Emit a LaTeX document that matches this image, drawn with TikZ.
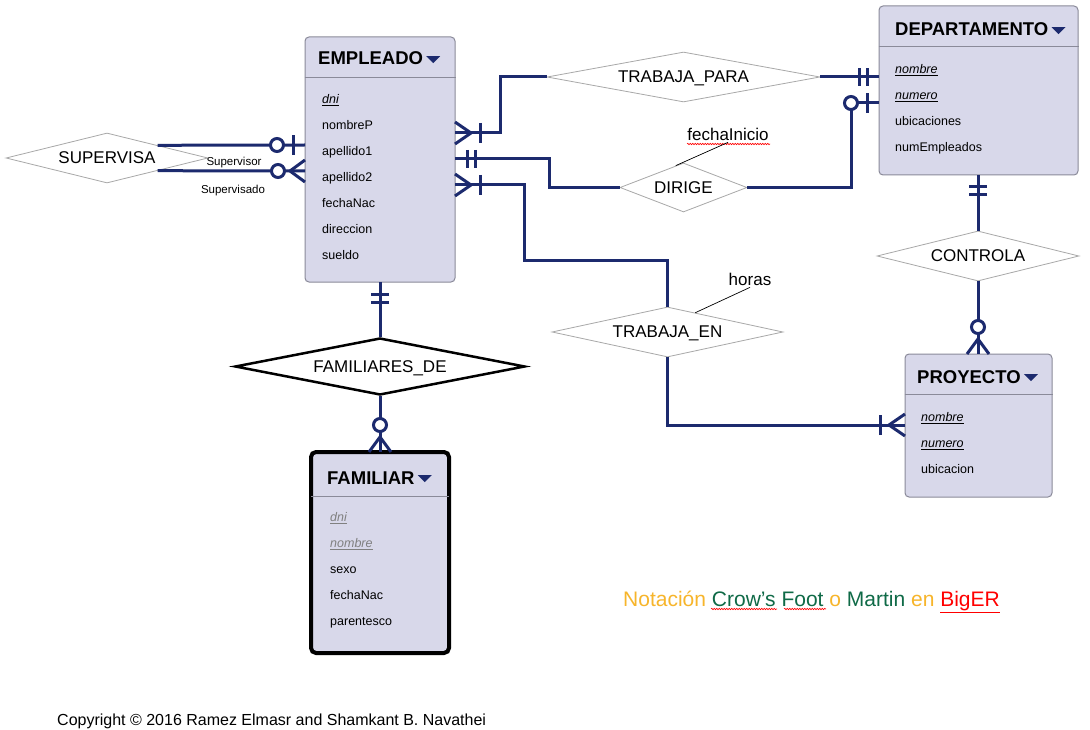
\documentclass[tikz,border=0pt]{standalone}
\usepackage{fontspec}
\setmainfont{Liberation Sans}
\usetikzlibrary{shapes.geometric,calc,decorations.pathmorphing}
\definecolor{navy}{HTML}{1C2A6E}
\definecolor{boxfill}{HTML}{D8D8EA}
\definecolor{boxline}{HTML}{8A8A99}
\definecolor{dgrey}{HTML}{A8A8A8}
\definecolor{orng}{HTML}{F7B52B}
\definecolor{grn}{HTML}{0F6A47}
\definecolor{keygrey}{HTML}{808080}
\tikzset{
 crowbar/.pic={\draw[mk] (0,-11) -- (16,0) -- (0,11); \draw[mk] (25,-10) -- (25,10);},
 dblbar/.pic={\draw[mk] (12,-9) -- (12,9); \draw[mk] (20,-9) -- (20,9);},
 zerobar/.pic={\draw[mk] (12,-10) -- (12,10); \draw[mk,fill=white] (28,0) circle[radius=6.5pt];},
 zerocrow/.pic={\draw[mk] (0,-11) -- (15,0) -- (0,11); \draw[mk,fill=white] (27,0) circle[radius=6.5pt];}
}
\begin{document}
\begin{tikzpicture}[x=1pt,y=-1pt,
 entity/.style={draw=boxline,fill=boxfill,rounded corners=4pt,line width=1pt,inner sep=0},
 weakent/.style={draw=black,fill=boxfill,rounded corners=5pt,line width=4pt,inner sep=0},
 sepline/.style={draw=boxline,line width=1pt},
 rel/.style={draw=navy,line width=3pt},
 mk/.style={draw=navy,line width=3pt},
 relbox/.style={diamond,draw=dgrey,line width=0.8pt,fill=white,inner sep=0,aspect=5,text depth=0pt,font=\fontsize{17}{20}\selectfont},
 title/.style={anchor=base west,inner sep=0,font=\bfseries\fontsize{18.5}{20}\selectfont},
 attr/.style={anchor=west,inner sep=0,yshift=-2.5pt,text height=9pt,text depth=3pt,font=\fontsize{12.5}{14}\selectfont},
 small/.style={inner sep=0,font=\fontsize{11.5}{13}\selectfont},
 attrib/.style={inner sep=1pt,font=\fontsize{17}{20}\selectfont},
 wavy/.style={draw=red,line width=0.6pt,decorate,decoration={snake,amplitude=0.7pt,segment length=2.5pt}},
 tri/.style={fill=navy}
]
\useasboundingbox (0,0) rectangle (1090,730);
\fill[white] (0,0) rectangle (1090,730);

% entities
\node[entity,minimum width=150pt,minimum height=245pt] (emp) at (380,159.5) {};
\draw[sepline] (emp.west |- 0,78) -- (emp.east |- 0,78);
\node[title] (empt) at (318,65) {EMPLEADO};
\fill[tri] ([xshift=3pt,yshift=2.5pt]empt.east) -- ++(14,0) -- ++(-7,7) -- cycle;
\node[attr] (ea1) at (322,98) {\underline{\textit{dni}}};
\node[attr] (ea2) at (322,124) {nombreP};
\node[attr] (ea3) at (322,150) {apellido1};
\node[attr] (ea4) at (322,176) {apellido2};
\node[attr] (ea5) at (322,202) {fechaNac};
\node[attr] (ea6) at (322,228) {direccion};
\node[attr] (ea7) at (322,254) {sueldo};

\node[entity,minimum width=199pt,minimum height=169pt] (dep) at (978.5,90.5) {};
\draw[sepline] (dep.west |- 0,47) -- (dep.east |- 0,47);
\node[title] (dept) at (895,36) {DEPARTAMENTO};
\fill[tri] ([xshift=3pt,yshift=2.5pt]dept.east) -- ++(14,0) -- ++(-7,7) -- cycle;
\node[attr] (da1) at (895,68) {\underline{\textit{nombre}}};
\node[attr] (da2) at (895,94) {\underline{\textit{numero}}};
\node[attr] (da3) at (895,120) {ubicaciones};
\node[attr] (da4) at (895,146) {numEmpleados};

\node[entity,minimum width=147pt,minimum height=143pt] (proy) at (978.5,425.5) {};
\draw[sepline] (proy.west |- 0,394) -- (proy.east |- 0,394);
\node[title] (proyt) at (917,383) {PROYECTO};
\fill[tri] ([xshift=3pt,yshift=2.5pt]proyt.east) -- ++(14,0) -- ++(-7,7) -- cycle;
\node[attr] (pa1) at (921,416) {\underline{\textit{nombre}}};
\node[attr] (pa2) at (921,442) {\underline{\textit{numero}}};
\node[attr] (pa3) at (921,468) {ubicacion};

\node[weakent,minimum width=138pt,minimum height=201pt] (fam) at (380,552.5) {};
\draw[sepline] ([xshift=2pt]fam.west |- 0,496) -- ([xshift=-2pt]fam.east |- 0,496);
\node[title] (famt) at (327,484) {FAMILIAR};
\fill[tri] ([xshift=3pt,yshift=2.5pt]famt.east) -- ++(14,0) -- ++(-7,7) -- cycle;
\node[attr,text=keygrey] (fa1) at (330,516) {\underline{\textit{dni}}};
\node[attr,text=keygrey] (fa2) at (330,542) {\underline{\textit{nombre}}};
\node[attr] (fa3) at (330,568) {sexo};
\node[attr] (fa4) at (330,594) {fechaNac};
\node[attr] (fa5) at (330,620) {parentesco};

% relationships
\node[relbox,minimum width=202pt,minimum height=50pt] (sup) at (107,158) {SUPERVISA};
\node[relbox,minimum width=273pt,minimum height=50pt] (tp) at (683.5,77) {TRABAJA\_PARA};
\node[relbox,minimum width=127pt,minimum height=49pt] (dir) at (683.5,187.5) {DIRIGE};
\node[relbox,minimum width=202pt,minimum height=50pt] (ctl) at (978,256) {CONTROLA};
\node[relbox,minimum width=231pt,minimum height=50pt] (te) at (667.5,332) {TRABAJA\_EN};
\node[relbox,draw=black,line width=2.5pt,minimum width=290pt,minimum height=57pt] (fd) at (380,366.5) {FAMILIARES\_DE};

% attributes of relationships
\node[attrib,anchor=base] (fi) at (728,141) {fechaInicio};
\draw[wavy] (687,144) -- (770,144);
\draw[black,line width=0.7pt] ($(dir.north)!0.12!(dir.west)$) -- (fi.south);
\node[attrib,anchor=base] (hor) at (750,286) {horas};
\draw[black,line width=0.7pt] ($(te.north)!0.24!(te.east)$) -- (hor.south);

% connection points
\coordinate (e1) at (455,133);
\coordinate (e2) at (455,159);
\coordinate (e3) at (455,185);
\coordinate (e4) at (380,282);
\coordinate (e5) at (305,145);
\coordinate (e6) at (305,171);
\coordinate (d1) at (879,77);
\coordinate (d2) at (879,103);
\coordinate (d3) at (978,175);
\coordinate (p1) at (905,425);
\coordinate (p2) at (978,354);
\coordinate (f1) at (380,452);

% connectors
\draw[rel] (e1) -| (500,77) -- (tp.west);
\draw[rel] (tp.east) -- (d1);
\draw[rel] (e2) -- (549,159) |- (dir.west);
\draw[rel] (dir.east) -| (851,103) -- (d2);
\draw[rel] (e3) -- (524,185) -- (524,261) -| (te.north);
\draw[rel] (te.south) |- (p1);
\draw[rel] (d3) -- (ctl.north);
\draw[rel] (ctl.south) -- (p2);
\draw[rel] (e4) -- (fd.north);
\draw[rel] (fd.south) -- (f1);
\draw[rel] ($(sup.north)!0.5!(sup.east)$) -- (e5);
\draw[rel] ($(sup.east)!0.5!(sup.south)$) -- (e6);

% cardinality marks
\pic at (e1) {crowbar};
\pic at (e2) {dblbar};
\pic at (e3) {crowbar};
\pic[rotate=180] at (d1) {dblbar};
\pic[rotate=180] at (d2) {zerobar};
\pic[rotate=180] at (p1) {crowbar};
\pic[rotate=-90] at (d3) {dblbar};
\pic[rotate=90] at (p2) {zerocrow};
\pic[rotate=-90] at (e4) {dblbar};
\pic[rotate=90] at (f1) {zerocrow};
\pic[rotate=180] at (e5) {zerobar};
\pic[rotate=180] at (e6) {zerocrow};

% role labels
\node[small] (rl1) at (234,163) {Supervisor};
\node[small] (rl2) at (233,191) {Supervisado};

% notes
\node[anchor=base west,inner sep=0,font=\fontsize{21}{24}\selectfont] (nota) at (623,606)
 {\color{orng}Notación \color{grn}Crow’s Foot \color{orng}o \color{grn}Martin \color{orng}en \color{red}\underline{BigER}};
\draw[wavy] (711,609) -- (777,609);
\draw[wavy] (784,609) -- (826,609);
\node[anchor=base west,inner sep=0,font=\fontsize{16}{19}\selectfont] (copy) at (57,725)
 {Copyright © 2016 Ramez Elmasr and Shamkant B. Navathei};
\end{tikzpicture}
\end{document}
